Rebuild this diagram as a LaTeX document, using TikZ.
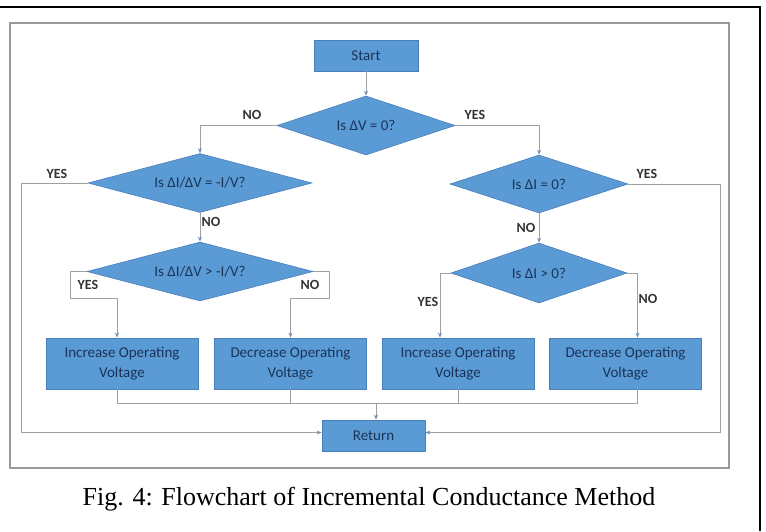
\documentclass[tikz,border=0pt]{standalone}
\usepackage{fontspec}
\setmainfont{Carlito}
\newfontfamily\capfont{Liberation Serif}
\usetikzlibrary{shapes.geometric,arrows.meta,calc}
\definecolor{fillb}{HTML}{5B9BD5}
\definecolor{edgeb}{HTML}{4A7EBB}
\definecolor{txtb}{HTML}{1A3458}
\definecolor{linec}{HTML}{A0A0A0}
\definecolor{tipc}{HTML}{6F8FB0}
\definecolor{labc}{HTML}{333333}
\definecolor{framec}{HTML}{9A9A9A}
\begin{document}
\begin{tikzpicture}[x=1pt,y=-1pt,
 box/.style={rectangle,fill=fillb,draw=edgeb,line width=0.8pt,text=txtb,font=\fontsize{15}{20}\selectfont,align=center,inner sep=0pt},
 dia/.style={diamond,aspect=3,fill=fillb,draw=edgeb,line width=0.6pt,text=txtb,font=\fontsize{15}{17}\selectfont,inner sep=0pt},
 ln/.style={draw=linec,line width=0.9pt},
 arr/.style={ln,-{Stealth[length=5pt,width=4pt,color=tipc]}},
 lab/.style={font=\bfseries\fontsize{14}{17}\selectfont,text=labc,inner sep=0pt}]
\useasboundingbox (0,0) rectangle (766,531);
% frames
\draw[framec,line width=1.5pt] (10,23) rectangle (729,468);
\draw[black,line width=2.5pt] (0,7) -- (760,7) -- (760,531);
% nodes
\node[box,minimum width=104pt,minimum height=31pt] (start) at (366,55.5) {Start};
\node[dia,minimum width=178pt,minimum height=59pt] (d1) at (366,125.5) {Is ΔV = 0?};
\node[dia,minimum width=224pt,minimum height=59pt] (d2) at (200,183) {Is ΔI/ΔV = -I/V?};
\node[dia,minimum width=178pt,minimum height=58pt] (d3) at (539,184) {Is ΔI = 0?};
\node[dia,minimum width=226pt,minimum height=59pt] (d4) at (200,271.5) {Is ΔI/ΔV > -I/V?};
\node[dia,minimum width=176pt,minimum height=60pt] (d5) at (539,273) {Is ΔI > 0?};
\node[box,minimum width=152pt,minimum height=51pt] (inc1) at (122,363.5) {Increase Operating\\Voltage};
\node[box,minimum width=152pt,minimum height=51pt] (dec1) at (290.5,363.5) {Decrease Operating\\Voltage};
\node[box,minimum width=152pt,minimum height=51pt] (inc2) at (458,363.5) {Increase Operating\\Voltage};
\node[box,minimum width=152pt,minimum height=51pt] (dec2) at (625.5,363.5) {Decrease Operating\\Voltage};
\node[box,minimum width=103pt,minimum height=31pt] (ret) at (373.5,435.5) {Return};
% connectors
\draw[arr] (start) -- (d1);
\draw[arr] (d1.west) -| (d2.north);
\draw[arr] (d1.east) -| (d3.north);
\draw[arr] (d2.south) -- (d4.north);
\draw[arr] (d3.south) -- (d5.north);
\draw[arr] (d2.west) -- ++(-66,0) |- ([yshift=3pt]ret.west);
\draw[arr] (d3.east) -- ++(92,0) |- ([yshift=3pt]ret.east);
\draw[arr] (d4.west) -- ++(-16,0) -- ++(0,26.5) -| ([xshift=-5pt]inc1.north);
\draw[arr] (d4.east) -- ++(16,0) -- ++(0,26.5) -| (dec1.north);
\draw[arr] (d5.west) -| ([xshift=-18pt]inc2.north);
\draw[arr] (d5.east) -| ([xshift=12pt]dec2.north);
\coordinate (i1b) at ([xshift=-5pt]inc1.south);
\coordinate (d2b) at ([xshift=12pt]dec2.south);
\coordinate (mj) at (376,403.5);
\draw[ln] (i1b) |- (mj -| d2b) -- (d2b);
\draw[ln] (dec1.south) -- (dec1.south |- mj);
\draw[ln] (inc2.south) -- (inc2.south |- mj);
\draw[arr] (mj) -- (mj |- ret.north);
% labels
\node[lab] (l1) at (252,115) {NO};
\node[lab] (l2) at (475,115) {YES};
\node[lab] (l3) at (57,174) {YES};
\node[lab] (l4) at (211,222) {NO};
\node[lab] (l5) at (647,174) {YES};
\node[lab] (l6) at (526,228) {NO};
\node[lab] (l7) at (88,285) {YES};
\node[lab] (l8) at (310,285) {NO};
\node[lab] (l9) at (428,302) {YES};
\node[lab] (l10) at (648,299) {NO};
% caption
\node[font=\capfont\fontsize{26}{30}\selectfont,inner sep=0pt] (cap) at (369,499) {Fig. 4: Flowchart of Incremental Conductance Method};
\end{tikzpicture}
\end{document}
